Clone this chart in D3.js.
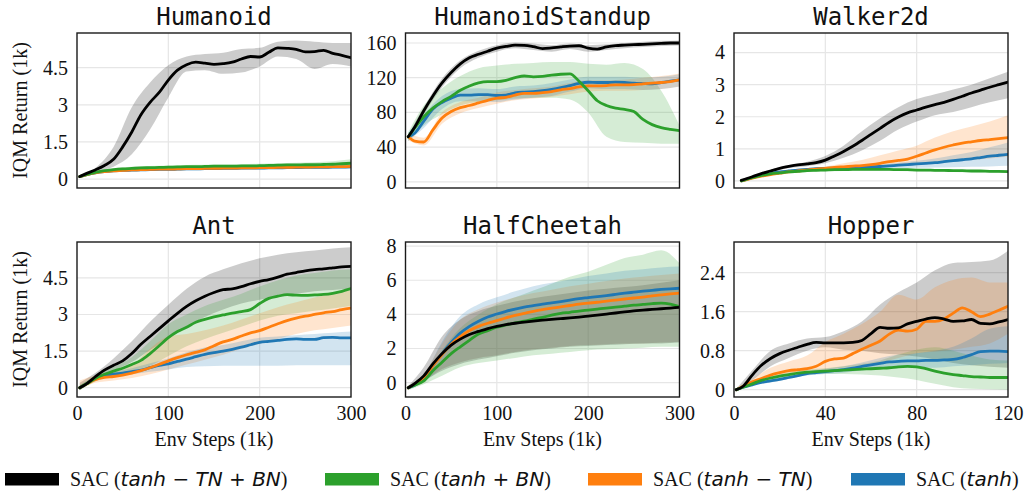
<!DOCTYPE html>
<html><head><meta charset="utf-8">
<script src="https://cdn.jsdelivr.net/npm/d3@7"></script>
<style>body{margin:0;background:#fff} svg{display:block}</style>
</head><body><svg id="c" width="1024" height="491"></svg>
<script>
// ---------- x sample grids ----------
const stepsLong = [3,10,20,30,40,50,60,70,80,90,100,110,120,130,140,150,160,170,180,190,200,210,220,230,240,250,260,270,280,290,300];
const bandStepsLong = [3,20,40,60,80,100,120,140,160,180,200,220,240,260,280,300];
const stepsWalker = [8,20,30,40,50,60,70,80,90,100,110,120,130,140,150,160,170,180,190,200,210,220,230,240,250,260,270,280,290,300];
const bandStepsWalker = [8,20,40,60,80,100,120,140,160,180,200,220,240,260,280,300];
const stepsHopper = [1,4,8,12,16,20,24,28,32,36,40,44,48,52,56,60,64,68,72,76,80,84,88,92,96,100,104,108,112,116,120];
const bandStepsHopper = [1,8,16,24,32,40,48,56,64,72,80,88,96,104,112,120];

// ---------- tick labels ----------
const longXTicks = [0,100,200,300];
const hopperXTicks = [0,40,80,120];
const humanoidYTicks = [0,1.5,3,4.5];
const standupYTicks = [0,40,80,120,160];
const walkerYTicks = [0,1,2,3,4];
const antYTicks = [0,1.5,3,4.5];
const cheetahYTicks = [0,2,4,6,8];
const hopperYTicks = [0,0.8,1.6,2.4];

// ---------- legend ----------
const legendMath = ["tanh \u2212 TN + BN","tanh + BN","tanh \u2212 TN","tanh"];
const seriesKeys = ["black","green","orange","blue"];
const seriesColors = {black:"#000000",green:"#2ca02c",orange:"#ff7f0e",blue:"#1f77b4"};

// ---------- Humanoid ----------
const humBlack = [0.1,0.22,0.37,0.55,0.8,1.3,1.9,2.6,3.1,3.5,4.0,4.4,4.62,4.72,4.68,4.63,4.66,4.72,4.85,4.95,4.93,5.12,5.3,5.28,5.24,5.14,5.15,5.2,5.08,5.0,4.9];
const humBlackLo = [0.08,0.3,0.5,1.0,2.0,3.3,4.35,4.4,4.25,4.3,4.55,4.95,4.85,4.45,4.65,4.55];
const humBlackHi = [0.12,0.45,1.3,2.9,3.9,4.6,4.95,5.05,5.1,5.25,5.3,5.55,5.6,5.55,5.5,5.5];
const humGreen = [0.1,0.18,0.27,0.34,0.38,0.41,0.43,0.45,0.46,0.47,0.48,0.49,0.5,0.5,0.51,0.52,0.52,0.52,0.53,0.53,0.54,0.55,0.56,0.57,0.57,0.58,0.58,0.59,0.6,0.62,0.64];
const humGreenLo = [0.08,0.22,0.32,0.36,0.38,0.4,0.41,0.42,0.43,0.44,0.44,0.45,0.46,0.46,0.47,0.48];
const humGreenHi = [0.12,0.32,0.44,0.5,0.53,0.55,0.57,0.58,0.59,0.6,0.62,0.64,0.66,0.68,0.72,0.8];
const humOrange = [0.1,0.17,0.25,0.3,0.33,0.35,0.37,0.38,0.39,0.4,0.4,0.41,0.42,0.42,0.43,0.43,0.44,0.44,0.45,0.45,0.46,0.46,0.47,0.47,0.48,0.48,0.49,0.49,0.5,0.5,0.51];
const humOrangeLo = [0.08,0.22,0.3,0.33,0.35,0.36,0.37,0.38,0.39,0.4,0.41,0.42,0.43,0.44,0.45,0.46];
const humOrangeHi = [0.12,0.3,0.38,0.41,0.43,0.44,0.46,0.47,0.48,0.49,0.5,0.51,0.52,0.53,0.54,0.56];
const humBlue = [0.1,0.17,0.25,0.3,0.33,0.35,0.36,0.37,0.38,0.39,0.39,0.4,0.41,0.41,0.42,0.42,0.43,0.43,0.44,0.44,0.44,0.45,0.45,0.46,0.46,0.47,0.47,0.47,0.48,0.48,0.49];
const humBlueLo = [0.08,0.21,0.29,0.32,0.34,0.35,0.36,0.37,0.38,0.39,0.4,0.41,0.41,0.42,0.43,0.44];
const humBlueHi = [0.12,0.29,0.37,0.4,0.42,0.43,0.45,0.46,0.47,0.48,0.49,0.5,0.51,0.52,0.53,0.54];

// ---------- HumanoidStandup ----------
const stdBlack = [52,63,82,99,114,126,136,143,147,150.5,154,156,157.5,157.3,155.8,153.5,154.3,155.5,156.5,156.8,154,153,155.4,157,157.5,158,158.5,159,159.5,160,160];
const stdBlackLo = [50,78,109,131,143,150,154,152,150,153,150,152,154,155.5,156.5,157];
const stdBlackHi = [54,86,119,140,151,157.5,160.5,159.5,157.5,159.5,157.5,158.5,160,161.5,162.5,163];
const stdGreen = [52,62,75,85,92.5,98.5,105.5,110.5,114,115.5,115.6,117,120,122,121,121.5,123,124,124.5,116,105,93.5,88,85,83.5,81,72,66,62.5,60.5,59];
const stdGreenLo = [47,65,78,88,92,94,96,97,97,95,80,52,46,45,44,44];
const stdGreenHi = [57,88,108,122,131,134,136,137,138,138,136,135,137,130,105,65];
const stdOrange = [52,47,46,60,73.5,81,85.5,88,91,94,96.4,97.5,100,102,102,102.8,104,106,107.5,109.5,110.6,110.6,111,111.8,111.8,112,113,113.7,114.5,115.5,117.5];
const stdOrangeLo = [48,42,67,79,85,90,94,96,98,101,104,105,105,106,107,110];
const stdOrangeHi = [56,51,80,92,97,103,106,108,110,114,117,117,118,120,122,125];
const stdBlue = [52,56,70,84,91.5,96.5,100,100,100.5,100.5,99.5,100,102.5,103.5,104,105,106.5,108.5,111,113.5,114.8,114.5,114.5,114.9,114.5,113.7,113.3,113,114.5,116,117.6];
const stdBlueLo = [47,62,84,93,93,92,95,97,99,104,108,107,107,106,107,110];
const stdBlueHi = [57,78,99,107,108,107,110,111,114,118,121,121,121,120,121,124];

// ---------- Walker2d ----------
const wlkBlack = [0.02,0.13,0.23,0.31,0.39,0.45,0.5,0.53,0.57,0.65,0.78,0.92,1.08,1.26,1.45,1.64,1.83,1.99,2.12,2.21,2.3,2.38,2.45,2.54,2.64,2.74,2.83,2.92,3.0,3.08];
const wlkBlackLo = [0.0,0.1,0.27,0.4,0.46,0.55,0.72,0.95,1.25,1.6,1.85,2.05,2.15,2.3,2.45,2.58];
const wlkBlackHi = [0.04,0.17,0.36,0.5,0.6,0.78,1.1,1.55,1.95,2.3,2.55,2.7,2.85,3.0,3.2,3.4];
const wlkGreen = [0.0,0.1,0.17,0.22,0.25,0.28,0.3,0.32,0.33,0.34,0.35,0.35,0.36,0.36,0.36,0.36,0.36,0.35,0.35,0.34,0.34,0.33,0.33,0.32,0.32,0.31,0.31,0.3,0.3,0.29];
const wlkGreenLo = [0,0.07,0.18,0.24,0.28,0.3,0.31,0.32,0.32,0.31,0.3,0.29,0.28,0.27,0.26,0.25];
const wlkGreenHi = [0,0.13,0.26,0.32,0.36,0.38,0.39,0.4,0.4,0.39,0.38,0.37,0.36,0.35,0.34,0.33];
const wlkOrange = [0.0,0.09,0.15,0.2,0.24,0.28,0.31,0.34,0.37,0.39,0.42,0.44,0.46,0.48,0.51,0.55,0.6,0.64,0.68,0.77,0.87,0.97,1.05,1.12,1.18,1.22,1.26,1.29,1.32,1.35];
const wlkOrangeLo = [0,0.07,0.17,0.25,0.3,0.34,0.38,0.4,0.42,0.45,0.5,0.55,0.6,0.65,0.7,0.75];
const wlkOrangeHi = [0,0.11,0.23,0.31,0.38,0.45,0.55,0.65,0.8,0.95,1.1,1.35,1.55,1.7,1.85,2.05];
const wlkBlue = [0.0,0.1,0.17,0.23,0.28,0.31,0.34,0.36,0.38,0.39,0.4,0.41,0.42,0.43,0.44,0.45,0.47,0.49,0.51,0.53,0.55,0.57,0.6,0.63,0.66,0.69,0.73,0.77,0.8,0.83];
const wlkBlueLo = [0,0.08,0.2,0.28,0.32,0.35,0.37,0.38,0.39,0.4,0.41,0.42,0.43,0.44,0.45,0.47];
const wlkBlueHi = [0,0.12,0.26,0.34,0.4,0.43,0.46,0.49,0.52,0.57,0.63,0.7,0.8,0.9,1.05,1.2];

// ---------- Ant ----------
const antBlack = [0.0,0.15,0.45,0.72,0.92,1.1,1.4,1.78,2.1,2.42,2.74,3.05,3.33,3.56,3.75,3.9,4.02,4.05,4.14,4.26,4.36,4.43,4.53,4.65,4.72,4.79,4.84,4.87,4.91,4.95,4.97];
const antBlackLo = [-0.1,0.35,0.7,1.05,1.55,2.0,2.5,2.9,3.2,3.45,3.6,3.75,3.85,3.95,4.0,4.05];
const antBlackHi = [0.2,0.6,1.2,1.9,2.7,3.4,4.05,4.55,4.85,5.1,5.3,5.45,5.55,5.62,5.7,5.75];
const antGreen = [0.0,0.15,0.38,0.55,0.68,0.8,0.95,1.12,1.4,1.72,2.05,2.3,2.48,2.68,2.8,2.9,2.98,3.06,3.12,3.2,3.45,3.66,3.75,3.81,3.79,3.78,3.8,3.82,3.87,3.95,4.06];
const antGreenLo = [-0.1,0.25,0.5,0.7,0.9,1.3,1.7,2.0,2.25,2.5,2.75,2.95,3.05,3.15,3.25,3.35];
const antGreenHi = [0.1,0.5,0.85,1.25,1.9,2.6,3.0,3.35,3.6,3.85,4.15,4.4,4.6,4.7,4.8,4.85];
const antOrange = [0.0,0.15,0.33,0.42,0.46,0.52,0.6,0.7,0.82,0.96,1.1,1.23,1.35,1.45,1.55,1.72,1.88,1.98,2.12,2.25,2.34,2.48,2.62,2.75,2.85,2.93,3.0,3.07,3.12,3.2,3.26];
const antOrangeLo = [-0.1,0.2,0.3,0.4,0.55,0.75,0.95,1.15,1.35,1.6,1.8,2.0,2.2,2.35,2.45,2.55];
const antOrangeHi = [0.3,0.5,0.65,0.9,1.6,2.1,2.2,2.35,2.55,2.8,3.05,3.3,3.5,3.7,3.85,4.0];
const antBlue = [0.0,0.15,0.38,0.5,0.56,0.6,0.66,0.72,0.82,0.92,0.98,1.08,1.17,1.27,1.37,1.44,1.5,1.57,1.66,1.76,1.86,1.9,1.94,1.98,2.0,1.98,1.98,2.05,2.06,2.04,2.04];
const antBlueLo = [-0.1,0.3,0.45,0.55,0.65,0.75,0.85,0.88,0.9,0.9,0.9,0.9,0.92,0.92,0.92,0.92];
const antBlueHi = [0.1,0.45,0.65,0.8,1.0,1.2,1.45,1.65,1.75,1.9,2.05,2.1,2.15,2.2,2.25,2.3];

// ---------- HalfCheetah ----------
const hcBlack = [-0.3,-0.05,0.4,1.1,1.7,2.2,2.55,2.82,3.0,3.17,3.3,3.4,3.48,3.55,3.61,3.66,3.71,3.75,3.79,3.84,3.9,3.96,4.02,4.08,4.15,4.21,4.25,4.29,4.33,4.37,4.41];
const hcBlackLo = [-0.4,0.1,0.7,1.1,1.35,1.55,1.75,1.9,2.0,2.1,2.15,2.2,2.25,2.3,2.3,2.35];
const hcBlackHi = [-0.2,0.9,2.7,3.7,4.2,4.5,4.75,4.95,5.1,5.25,5.4,5.5,5.6,5.7,5.85,6.0];
const hcGreen = [-0.3,-0.15,0.1,0.7,1.2,1.7,2.1,2.48,2.85,3.05,3.25,3.38,3.5,3.6,3.72,3.83,3.95,4.06,4.12,4.19,4.25,4.31,4.37,4.42,4.48,4.54,4.58,4.63,4.66,4.6,4.45];
const hcGreenLo = [-0.45,-0.1,0.4,0.9,1.15,1.3,1.45,1.6,1.7,1.8,1.9,1.95,2.0,2.05,2.1,2.1];
const hcGreenHi = [-0.15,0.3,1.9,3.2,4.0,4.6,5.0,5.4,5.8,6.2,6.5,6.9,7.3,7.5,7.75,7.0];
const hcOrange = [-0.3,-0.1,0.3,1.0,1.65,2.25,2.7,3.05,3.3,3.48,3.63,3.8,3.94,4.06,4.18,4.28,4.36,4.44,4.52,4.6,4.66,4.71,4.78,4.84,4.9,4.96,5.01,5.08,5.14,5.2,5.25];
const hcOrangeLo = [-0.4,0.1,0.8,1.2,1.45,1.6,1.8,1.95,2.05,2.15,2.2,2.25,2.3,2.3,2.35,2.4];
const hcOrangeHi = [-0.2,0.5,2.3,3.7,4.3,4.7,5.0,5.25,5.45,5.65,5.8,5.95,6.1,6.2,6.3,6.4];
const hcBlue = [-0.3,-0.15,0.25,1.0,1.7,2.35,2.9,3.3,3.6,3.85,4.02,4.18,4.31,4.42,4.51,4.6,4.67,4.75,4.84,4.92,4.98,5.04,5.1,5.17,5.24,5.3,5.36,5.41,5.46,5.5,5.53];
const hcBlueLo = [-0.4,0.05,0.8,1.2,1.45,1.6,1.8,1.95,2.05,2.15,2.2,2.25,2.3,2.3,2.35,2.4];
const hcBlueHi = [-0.2,0.45,2.4,3.9,4.6,5.0,5.35,5.65,5.85,6.05,6.25,6.4,6.55,6.65,6.75,6.8];

// ---------- Hopper ----------
const hopBlack = [0.0,0.07,0.3,0.5,0.64,0.74,0.81,0.87,0.93,0.97,0.96,0.96,0.96,0.97,1.01,1.15,1.28,1.26,1.27,1.35,1.4,1.45,1.48,1.45,1.4,1.41,1.44,1.36,1.35,1.39,1.44];
const hopBlackLo = [0.0,0.2,0.48,0.65,0.8,0.87,0.82,0.8,0.75,0.72,0.68,0.62,0.55,0.5,0.47,0.45];
const hopBlackHi = [0.02,0.4,0.8,0.95,1.05,1.08,1.2,1.4,1.75,2.0,2.2,2.45,2.6,2.62,2.65,2.85];
const hopGreen = [0.0,0.05,0.12,0.19,0.24,0.28,0.31,0.34,0.36,0.37,0.38,0.39,0.4,0.41,0.42,0.43,0.44,0.45,0.47,0.48,0.47,0.43,0.38,0.34,0.31,0.29,0.27,0.26,0.25,0.25,0.25];
const hopGreenLo = [0,0.1,0.2,0.26,0.3,0.32,0.32,0.31,0.29,0.25,0.2,0.12,0.05,0.02,0.01,0.0];
const hopGreenHi = [0.02,0.14,0.28,0.36,0.42,0.44,0.48,0.53,0.6,0.72,0.82,0.87,0.8,0.7,0.62,0.6];
const hopOrange = [0.0,0.07,0.16,0.23,0.3,0.35,0.39,0.41,0.43,0.48,0.58,0.63,0.65,0.74,0.83,0.91,1.0,1.14,1.22,1.2,1.24,1.4,1.4,1.45,1.57,1.68,1.6,1.5,1.55,1.63,1.71];
const hopOrangeLo = [0,0.12,0.22,0.3,0.35,0.4,0.45,0.5,0.55,0.65,0.75,0.78,0.82,0.88,0.95,1.15];
const hopOrangeHi = [0.02,0.22,0.45,0.58,0.7,0.98,1.15,1.35,1.6,1.95,1.85,2.1,2.25,2.3,2.2,2.2];
const hopBlue = [0.0,0.05,0.1,0.15,0.18,0.21,0.25,0.29,0.33,0.35,0.37,0.39,0.41,0.44,0.48,0.51,0.54,0.57,0.58,0.59,0.59,0.6,0.6,0.61,0.62,0.66,0.72,0.78,0.79,0.79,0.78];
const hopBlueLo = [0,0.08,0.15,0.22,0.29,0.32,0.35,0.4,0.43,0.45,0.45,0.45,0.48,0.5,0.53,0.55];
const hopBlueHi = [0.02,0.12,0.22,0.29,0.38,0.43,0.48,0.56,0.65,0.72,0.75,0.8,0.88,1.05,1.25,1.3];

// ---------- panel table built from the arrays ----------
const panels = [
  {title:"Humanoid", row:0, col:0, xs:stepsLong, bxs:bandStepsLong, xDom:[0,300], xTicks:longXTicks, yDom:[-0.36,5.9], yTicks:humanoidYTicks,
   s:{black:[humBlack,humBlackLo,humBlackHi],green:[humGreen,humGreenLo,humGreenHi],orange:[humOrange,humOrangeLo,humOrangeHi],blue:[humBlue,humBlueLo,humBlueHi]}},
  {title:"HumanoidStandup", row:0, col:1, xs:stepsLong, bxs:bandStepsLong, xDom:[0,300], xTicks:longXTicks, yDom:[-7,171.5], yTicks:standupYTicks,
   s:{black:[stdBlack,stdBlackLo,stdBlackHi],green:[stdGreen,stdGreenLo,stdGreenHi],orange:[stdOrange,stdOrangeLo,stdOrangeHi],blue:[stdBlue,stdBlueLo,stdBlueHi]}},
  {title:"Walker2d", row:0, col:2, xs:stepsWalker, bxs:bandStepsWalker, xDom:[0,300], xTicks:longXTicks, yDom:[-0.22,4.61], yTicks:walkerYTicks,
   s:{black:[wlkBlack,wlkBlackLo,wlkBlackHi],green:[wlkGreen,wlkGreenLo,wlkGreenHi],orange:[wlkOrange,wlkOrangeLo,wlkOrangeHi],blue:[wlkBlue,wlkBlueLo,wlkBlueHi]}},
  {title:"Ant", row:1, col:0, xs:stepsLong, bxs:bandStepsLong, xDom:[0,300], xTicks:longXTicks, yDom:[-0.38,5.97], yTicks:antYTicks,
   s:{black:[antBlack,antBlackLo,antBlackHi],green:[antGreen,antGreenLo,antGreenHi],orange:[antOrange,antOrangeLo,antOrangeHi],blue:[antBlue,antBlueLo,antBlueHi]}},
  {title:"HalfCheetah", row:1, col:1, xs:stepsLong, bxs:bandStepsLong, xDom:[0,300], xTicks:longXTicks, yDom:[-0.84,8.24], yTicks:cheetahYTicks,
   s:{black:[hcBlack,hcBlackLo,hcBlackHi],green:[hcGreen,hcGreenLo,hcGreenHi],orange:[hcOrange,hcOrangeLo,hcOrangeHi],blue:[hcBlue,hcBlueLo,hcBlueHi]}},
  {title:"Hopper", row:1, col:2, xs:stepsHopper, bxs:bandStepsHopper, xDom:[0,120], xTicks:hopperXTicks, yDom:[-0.15,3.03], yTicks:hopperYTicks,
   s:{black:[hopBlack,hopBlackLo,hopBlackHi],green:[hopGreen,hopGreenLo,hopGreenHi],orange:[hopOrange,hopOrangeLo,hopOrangeHi],blue:[hopBlue,hopBlueLo,hopBlueHi]}}
];

// ---------- layout ----------
const colLeft = [77, 405.5, 734];
const rowTop = [33, 242];
const W = 274, H = 155;
const serif = "'Liberation Serif','Times New Roman',serif";

const svg = d3.select("#c");
svg.append("rect").attr("width",1024).attr("height",491).attr("fill","#fff");
const defs = svg.append("defs");

panels.forEach((p,i)=>{
  const g = svg.append("g").attr("transform",`translate(${colLeft[p.col]},${rowTop[p.row]})`);
  const x = d3.scaleLinear().domain(p.xDom).range([0,W]);
  const y = d3.scaleLinear().domain(p.yDom).range([H,0]);

  defs.append("clipPath").attr("id","clip"+i).append("rect").attr("width",W).attr("height",H);

  // grid
  g.append("g").selectAll("line").data(p.xTicks.filter(t=>t>p.xDom[0]&&t<p.xDom[1])).join("line")
    .attr("x1",d=>x(d)).attr("x2",d=>x(d)).attr("y1",0).attr("y2",H)
    .attr("stroke","#e6e6e6").attr("stroke-width",1.2);
  g.append("g").selectAll("line").data(p.yTicks).join("line")
    .attr("x1",0).attr("x2",W).attr("y1",d=>y(d)).attr("y2",d=>y(d))
    .attr("stroke","#e6e6e6").attr("stroke-width",1.2);

  const plot = g.append("g").attr("clip-path",`url(#clip${i})`);

  // bands
  seriesKeys.forEach(k=>{
    const [, lo, hi] = p.s[k];
    const pts = p.bxs.map((xv,j)=>({x:xv, lo:lo[j], hi:hi[j]}));
    const area = d3.area().curve(d3.curveMonotoneX)
      .x(d=>x(d.x)).y0(d=>y(d.lo)).y1(d=>y(d.hi));
    plot.append("path").datum(pts).attr("d",area)
      .attr("fill",seriesColors[k]).attr("fill-opacity",0.2).attr("stroke","none");
  });
  // lines (black last = on top)
  ["blue","orange","green","black"].forEach(k=>{
    const mean = p.s[k][0];
    const pts = p.xs.map((xv,j)=>({x:xv, y:mean[j]}));
    const line = d3.line().curve(d3.curveMonotoneX).x(d=>x(d.x)).y(d=>y(d.y));
    plot.append("path").datum(pts).attr("d",line)
      .attr("fill","none").attr("stroke",seriesColors[k]).attr("stroke-width",2.8)
      .attr("stroke-linejoin","round").attr("stroke-linecap","round");
  });

  // frame
  g.append("rect").attr("width",W).attr("height",H).attr("fill","none")
    .attr("stroke","#1a1a1a").attr("stroke-width",1.4);

  // y axis
  const ya = g.append("g").call(d3.axisLeft(y).tickValues(p.yTicks).tickSize(0).tickPadding(9).tickFormat(d=>String(d)));
  ya.select(".domain").remove();
  ya.selectAll("text").attr("font-family",serif).attr("font-size",20).attr("fill","#111");

  // x axis (bottom row only)
  if (p.row===1){
    const xa = g.append("g").attr("transform",`translate(0,${H})`)
      .call(d3.axisBottom(x).tickValues(p.xTicks).tickSize(0).tickPadding(9).tickFormat(d=>String(d)));
    xa.select(".domain").remove();
    xa.selectAll("text").attr("font-family",serif).attr("font-size",20).attr("fill","#111");
    g.append("text").attr("x",W/2).attr("y",H+49).attr("text-anchor","middle")
      .attr("font-family",serif).attr("font-size",20).attr("fill","#111").text("Env Steps (1k)");
  }
  if (p.col===0){
    g.append("text").attr("transform",`translate(${27-colLeft[0]},${H/2}) rotate(-90)`)
      .attr("text-anchor","middle").attr("font-family",serif).attr("font-size",20).attr("fill","#111")
      .text("IQM Return (1k)");
  }
  // title
  g.append("text").attr("x",W/2).attr("y",-8).attr("text-anchor","middle")
    .attr("font-family","'DejaVu Sans Mono',monospace").attr("font-size",24).attr("fill","#111")
    .text(p.title);
});

// legend
const legendPatchX = [5, 325, 588, 851];
const lg = svg.append("g");
seriesKeys.forEach((k,i)=>{
  lg.append("rect").attr("x",legendPatchX[i]).attr("y",473).attr("width",54).attr("height",12.5)
    .attr("fill",seriesColors[k]);
  const t = lg.append("text").attr("x",legendPatchX[i]+65).attr("y",486).attr("font-size",20).attr("fill","#111");
  t.append("tspan").attr("font-family",serif).text("SAC (");
  t.append("tspan").attr("font-family","'DejaVu Sans',sans-serif").attr("font-style","italic").text(legendMath[i]);
  t.append("tspan").attr("font-family",serif).text(")");
});
</script>
</body></html>
